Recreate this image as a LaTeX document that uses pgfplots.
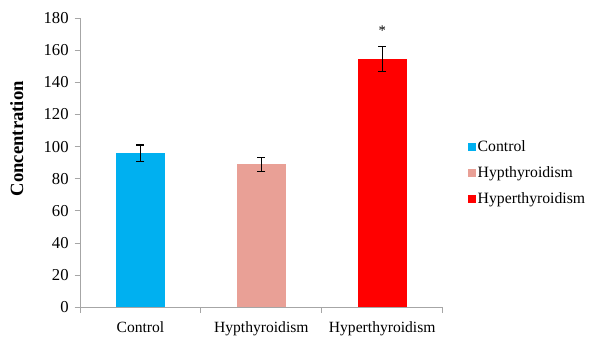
\documentclass[border=0pt]{standalone}
\usepackage{pgfplots}
\pgfplotsset{compat=1.18}
\usepackage{fontspec}
\setmainfont{Liberation Serif}
\definecolor{cctrl}{HTML}{00B0F0}
\definecolor{chypo}{HTML}{E9A096}
\definecolor{chyper}{HTML}{FF0000}
\begin{document}
\begin{tikzpicture}
\begin{axis}[
  scale only axis,
  width=272pt, height=217pt,
  ybar, bar width=37pt,
  xmin=-0.5, xmax=2.5,
  ymin=0, ymax=180,
  ytick={0,20,...,180},
  xtick={0,1,2},
  xticklabels={Control,Hypthyroidism,Hyperthyroidism},
  minor xtick={-0.5,0.5,1.5,2.5},
  major x tick style={draw=none},
  minor tick length=4pt,
  major tick length=4pt,
  tick align=outside,
  axis x line*=bottom, axis y line*=left,
  axis line style={draw=gray!70, line width=0.6pt},
  every tick/.style={draw=gray!70, line width=0.6pt},
  xticklabel style={font=\fontsize{11.7}{13}\selectfont, yshift=-3pt},
  yticklabel style={font=\fontsize{12.5}{14}\selectfont, xshift=-1pt},
  /pgf/number format/assume math mode=true,
  ylabel={\textbf{Concentration}},
  ylabel style={font=\fontsize{14}{16}\selectfont, at={(axis description cs:-0.143,0.583)}, anchor=south, rotate=0},
  legend style={at={(1.069,0.464)}, anchor=west, draw=none, font=\fontsize{11.8}{13}\selectfont, row sep=7pt, inner sep=0pt,
    nodes={inner sep=1.3pt}},
  legend cell align=left,
  legend image code/.code={\fill[#1,draw=none] (0pt,-3pt) rectangle (6pt,3pt);},
  error bars/error bar style={black, line width=0.8pt},
  error bars/error mark options={rotate=90, mark size=3pt, line width=0.8pt, black},
]
\addplot[fill=cctrl, draw=none, bar shift=0pt, error bars/.cd, y dir=both, y explicit] coordinates {(0,96) +- (0,5)};
\addlegendentry{Control}
\addplot[fill=chypo, draw=none, bar shift=0pt, error bars/.cd, y dir=both, y explicit] coordinates {(1,89) +- (0,4.5)};
\addlegendentry{Hypthyroidism}
\addplot[fill=chyper, draw=none, bar shift=0pt, error bars/.cd, y dir=both, y explicit] coordinates {(2,154.5) +- (0,7.8)};
\addlegendentry{Hyperthyroidism}
\node[font=\fontsize{11}{13}\selectfont] at (axis cs:2,172) {*};
\end{axis}
\pgfresetboundingbox
\path[use as bounding box] (-60pt,-21.75pt) rectangle (388.5pt,230.5pt);
\end{tikzpicture}
\end{document}
